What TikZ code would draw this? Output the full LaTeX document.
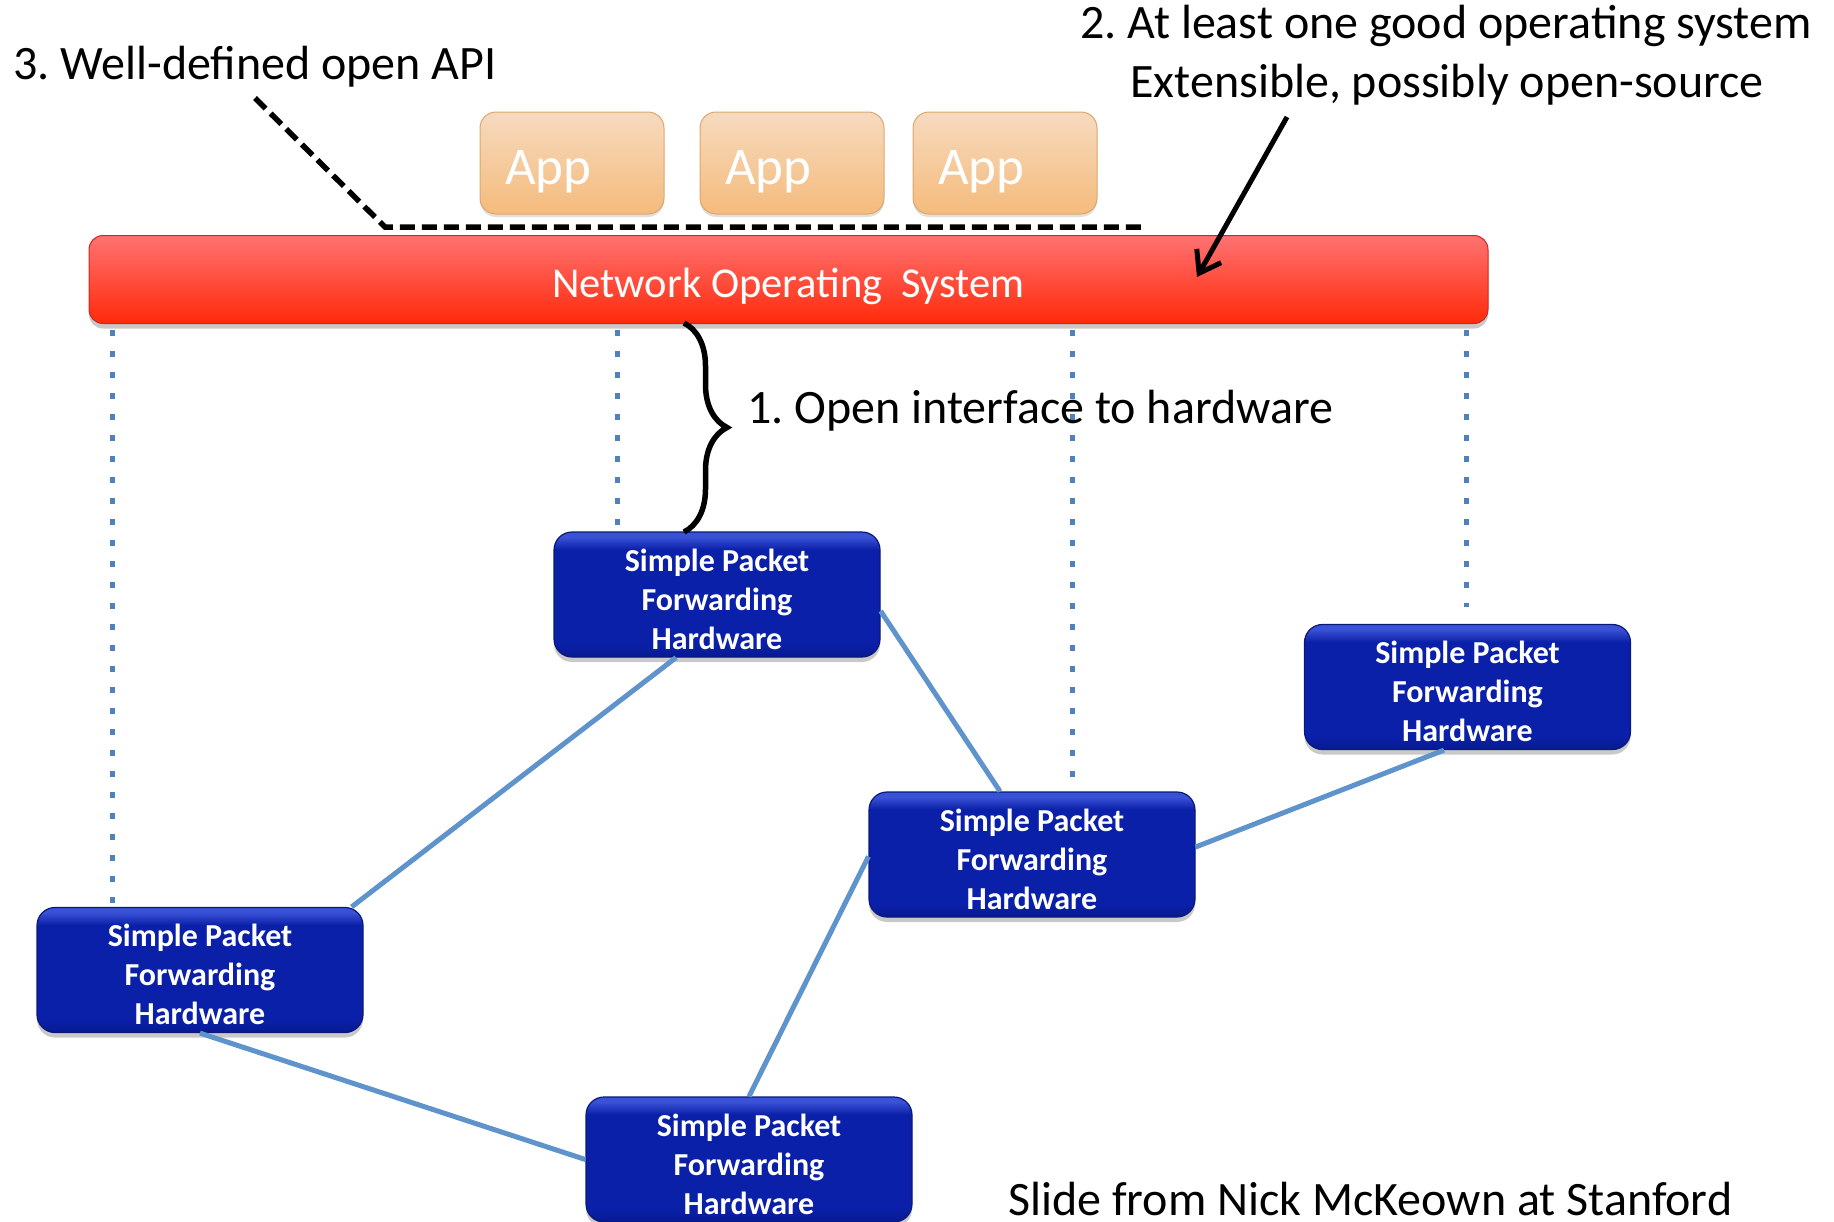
\documentclass[tikz,border=0pt]{standalone}
\usepackage{fontspec}
\setmainfont{Carlito}
\usetikzlibrary{calc,arrows.meta,decorations.pathreplacing,shadows}
\definecolor{hwmain}{HTML}{0A20A8}
\definecolor{hwlight}{HTML}{3A52D6}
\definecolor{hwdark}{HTML}{081A90}
\definecolor{hwborder}{HTML}{0A1878}
\definecolor{apptop}{HTML}{F6DABF}
\definecolor{appbot}{HTML}{F5BB7C}
\definecolor{appborder}{HTML}{DDA66C}
\definecolor{nostop}{HTML}{FF7272}
\definecolor{nosbot}{HTML}{FF2A0A}
\definecolor{nosborder}{HTML}{C42A20}
\definecolor{linkblue}{HTML}{5E93CC}
\definecolor{dotblue}{HTML}{4F81BD}
\pgfdeclareverticalshading{hwshade}{100bp}{color(0bp)=(hwdark); color(25bp)=(hwdark); color(30bp)=(hwmain); color(68bp)=(hwmain); color(73bp)=(hwlight); color(75bp)=(hwlight); color(100bp)=(hwlight)}
\newcommand{\hwtext}{\rule{0pt}{32pt}Simple Packet\\Forwarding\\Hardware}
\frenchspacing
\begin{document}
\begin{tikzpicture}[x=1pt,y=-1pt,
  hwbox/.style={shading=hwshade, draw=hwborder, line width=1.2pt, rounded corners=18pt,
    minimum width=326pt, minimum height=125pt, inner sep=0pt, align=center, text=white,
    font=\fontsize{32}{39}\selectfont\bfseries,
    drop shadow={shadow xshift=0pt, shadow yshift=-5pt, opacity=0.3, fill=black!70}},
  appbox/.style={top color=apptop, bottom color=appbot, draw=appborder, line width=1pt,
    rounded corners=16pt, minimum height=102pt, inner ysep=0pt, inner xsep=25pt,
    text width=134pt, align=left, text=white, text height=43pt, text depth=0pt,
    font=\fontsize{53}{60}\selectfont,
    drop shadow={shadow xshift=0pt, shadow yshift=-3pt, opacity=0.2, fill=black!60}},
  nosbox/.style={top color=nostop, bottom color=nosbot, draw=nosborder, line width=1pt,
    rounded corners=14pt, minimum width=1399pt, minimum height=88pt, inner sep=0pt,
    text=white, text height=35pt, text depth=0pt, font=\fontsize{42.5}{48}\selectfont,
    drop shadow={shadow xshift=0pt, shadow yshift=-5pt, opacity=0.3, fill=black!70}},
  note/.style={inner sep=0pt, text=black, font=\fontsize{48}{56}\selectfont},
  link/.style={draw=linkblue, line width=5pt},
  dotline/.style={draw=dotblue, line width=5pt, dash pattern=on 6pt off 15pt}
]
\useasboundingbox (0,0) rectangle (1834,1221);
\clip (0,0) rectangle (1834,1221);

\node[hwbox] (H1) at (717,594.5) {\hwtext};
\node[hwbox] (H2) at (1467.5,687) {\hwtext};
\node[hwbox] (H3) at (1032,854.5) {\hwtext};
\node[hwbox] (H4) at (200,970) {\hwtext};
\node[hwbox] (H5) at (749,1159.5) {\hwtext};

\node[nosbox] (NOS) at (788.5,279.5) {Network Operating~~System};

\node[appbox] (A1) at (572,163) {App};
\node[appbox] (A2) at (792,163) {App};
\node[appbox] (A3) at (1005,163) {App};

\coordinate (d1) at ($(H4.north)+(-88,0)$);
\coordinate (d2) at ($(H1.north)+(-100,-5)$);
\coordinate (d3) at ($(H3.north)+(40,0)$);
\coordinate (d4) at ($(H2.north)+(-1.5,-17)$);
\draw[dotline] (d1 |- NOS.south) ++(0,6) -- (d1);
\draw[dotline] (d2 |- NOS.south) ++(0,6) -- (d2);
\draw[dotline] (d3 |- NOS.south) ++(0,6) -- (d3);
\draw[dotline] (d4 |- NOS.south) ++(0,6) -- (d4);

\draw[link] ($(H1.south)+(-41,0)$) -- ($(H4.north east)+(-12,0)$);
\draw[link] ($(H1.east)+(0,16.5)$) -- ($(H3.north)+(-32,0)$);
\draw[link] ($(H3.east)+(0,-7.5)$) -- ($(H2.south)+(-23.5,0)$);
\draw[link] ($(H3.west)+(0,2)$) -- (H5.north);
\draw[link] (H4.south) -- (H5.west);

\coordinate (api1) at (255,98);
\coordinate (api2) at (385,227);
\coordinate (api3) at (1141,227);
\draw[line width=5.5pt, dash pattern=on 15pt off 7pt] (api1) -- (api2) -- (api3);

\coordinate (arrS) at (1287,117);
\coordinate (arrT) at (1197,277);
\draw[line width=5pt, -{Straight Barb[length=20pt,width=28pt,line width=5pt]}] (arrS) -- (arrT);

\coordinate (brT) at (684,323);
\coordinate (brB) at (684,532);
\draw[line width=5.5pt, decorate, decoration={brace, amplitude=43pt, aspect=0.5}] (brT) -- (brB);

\node[note, anchor=base west] (T3) at (13,79) {3. Well-defined open API};
\node[note, anchor=base] (T2a) at (1446,38) {2. At least one good operating system};
\node[note, anchor=base] (T2b) at (1447,97) {Extensible, possibly open-source};
\node[note, anchor=base west] (T1) at (747,423) {1. Open interface to hardware};
\node[note, anchor=base west] (TS) at (1008,1215) {Slide from Nick McKeown at Stanford};
\end{tikzpicture}
\end{document}
